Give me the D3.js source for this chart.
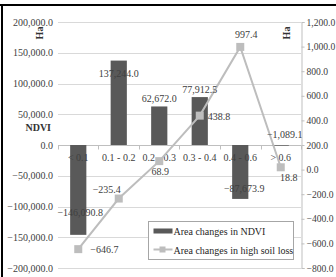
<!DOCTYPE html>
<html><head><meta charset="utf-8">
<script src="https://cdn.jsdelivr.net/npm/d3@7"></script>
<style>body{margin:0;background:#fff}svg{display:block}text{font-family:"Liberation Serif","Times New Roman",serif;}</style>
</head><body><svg id="c" width="336" height="277"></svg>
<script>
const categories = ["< 0.1", "0.1 - 0.2", "0.2 - 0.3", "0.3 - 0.4", "0.4 - 0.6", "> 0.6"];
const ndviArea = [-146090.8, 137244.0, 62672.0, 77912.5, -87673.9, -1089.1];
const soilLossArea = [-646.7, -235.4, 68.9, 438.8, 997.4, 18.8];
const leftTicks = [200000, 150000, 100000, 50000, 0, -50000, -100000, -150000, -200000];
const rightTicks = [1200, 1000, 800, 600, 400, 200, 0, -200, -400, -600, -800];
const seriesNames = ["Area changes in NDVI", "Area changes in high soil loss"];

const svg = d3.select("#c");
const W = 336, H = 277;
const plot = {l: 58, r: 301, t: 22, b: 268};
const fmt = d3.format(",.1f");

const x = d3.scaleBand().domain(categories).range([plot.l, plot.r]).paddingInner(0.6).paddingOuter(0.3);
const yL = d3.scaleLinear().domain([-200000, 200000]).range([plot.b, plot.t]);
const yR = d3.scaleLinear().domain([-800, 1200]).range([plot.b, plot.t]);
const cx = c => x(c) + x.bandwidth() / 2;

// frame
svg.append("line").attr("x1", 0).attr("x2", W).attr("y1", 5).attr("y2", 5).attr("stroke", "#000").attr("stroke-width", 2);
svg.append("line").attr("x1", 2).attr("x2", 2).attr("y1", 4).attr("y2", H).attr("stroke", "#000").attr("stroke-width", 2);

// gridlines
svg.append("g").selectAll("line").data(leftTicks).join("line")
  .attr("x1", plot.l).attr("x2", plot.r)
  .attr("y1", d => Math.round(yL(d)) + 0.5).attr("y2", d => Math.round(yL(d)) + 0.5)
  .attr("stroke", "#d9d9d9").attr("stroke-width", 1);

// left axis labels
const axL = d3.axisLeft(yL).tickValues(leftTicks).tickFormat(fmt).tickSize(0).tickPadding(5);
const gL = svg.append("g").attr("transform", `translate(${plot.l},0)`).call(axL);
gL.select(".domain").remove();
gL.selectAll("text").attr("font-size", 10).attr("fill", "#404040").attr("font-family", "Liberation Serif");

// right axis
const axR = d3.axisRight(yR).tickValues(rightTicks).tickFormat(fmt).tickSize(3).tickPadding(2);
const gR = svg.append("g").attr("transform", `translate(${plot.r + 0.5},0)`).call(axR);
gR.select(".domain").attr("stroke", "#bfbfbf");
gR.selectAll(".tick line").attr("stroke", "#bfbfbf");
gR.selectAll("text").attr("font-size", 9.6).attr("fill", "#404040").attr("font-family", "Liberation Serif");

// category axis at zero
const y0 = Math.round(yL(0)) + 0.5;
svg.append("line").attr("x1", plot.l).attr("x2", plot.r).attr("y1", y0).attr("y2", y0).attr("stroke", "#bfbfbf");
const bounds = categories.map(c => x(c) - x.step() * x.paddingInner() / 2).concat([plot.r]);
svg.append("g").selectAll("line").data(bounds).join("line")
  .attr("x1", d => Math.round(d) + 0.5).attr("x2", d => Math.round(d) + 0.5)
  .attr("y1", y0).attr("y2", y0 + 4).attr("stroke", "#bfbfbf");

// bars
svg.append("g").selectAll("rect").data(ndviArea).join("rect")
  .attr("x", (d, i) => x(categories[i]))
  .attr("width", x.bandwidth())
  .attr("y", d => yL(Math.max(0, d)))
  .attr("height", d => Math.abs(yL(d) - yL(0)))
  .attr("fill", "#595959");

// category labels
svg.append("g").selectAll("text").data(categories).join("text")
  .attr("x", d => cx(d)).attr("y", y0 + 15)
  .attr("text-anchor", "middle").attr("font-size", 10).attr("fill", "#404040")
  .text(d => d);

// line
const linePts = soilLossArea.map((v, i) => [cx(categories[i]), yR(v)]);
svg.append("path").attr("d", d3.line()(linePts)).attr("fill", "none").attr("stroke", "#bdbdbd").attr("stroke-width", 2);
svg.append("g").selectAll("rect").data(linePts).join("rect")
  .attr("x", d => d[0] - 4).attr("y", d => d[1] - 4).attr("width", 8).attr("height", 8)
  .attr("fill", "#bdbdbd");

// bar labels (offsets relative to bar end)
const barLblOff = [[2, -22], [0, 16], [0, -4], [0, -4], [4, -10], [4, -11]];
svg.append("g").selectAll("text").data(ndviArea).join("text")
  .attr("x", (d, i) => cx(categories[i]) + barLblOff[i][0])
  .attr("y", (d, i) => (d < 0 ? yL(d) + barLblOff[i][1] + 3 : yL(d) + barLblOff[i][1]))
  .attr("text-anchor", "middle").attr("font-size", 10).attr("fill", "#404040")
  .text(d => fmt(d));

// line labels
const lineLblOff = [[12, 4, "start"], [-12, -6, "middle"], [1, 14, "middle"], [8, 4, "start"], [6, -9, "middle"], [8, 14, "middle"]];
svg.append("g").selectAll("text").data(soilLossArea).join("text")
  .attr("x", (d, i) => linePts[i][0] + lineLblOff[i][0])
  .attr("y", (d, i) => linePts[i][1] + lineLblOff[i][1])
  .attr("text-anchor", (d, i) => lineLblOff[i][2]).attr("font-size", 10).attr("fill", "#404040")
  .text(d => fmt(d));

// axis titles
svg.append("text").attr("transform", "translate(43,33) rotate(-90)").attr("text-anchor", "middle")
  .attr("font-size", 10).attr("font-weight", "bold").attr("fill", "#333").text("Ha");
svg.append("text").attr("transform", "translate(290,33) rotate(-90)").attr("text-anchor", "middle")
  .attr("font-size", 10).attr("font-weight", "bold").attr("fill", "#333").text("Ha");
svg.append("text").attr("x", 51).attr("y", 131).attr("text-anchor", "end")
  .attr("font-size", 10).attr("font-weight", "bold").attr("fill", "#333").text("NDVI");

// legend
const lg = svg.append("g").attr("transform", "translate(148.5,221.5)");
lg.append("rect").attr("width", 145).attr("height", 38).attr("fill", "#fff").attr("stroke", "#a6a6a6");
lg.append("rect").attr("x", 5).attr("y", 7).attr("width", 19).attr("height", 5).attr("fill", "#595959");
lg.append("line").attr("x1", 5).attr("x2", 24).attr("y1", 28).attr("y2", 28).attr("stroke", "#bdbdbd").attr("stroke-width", 2);
lg.append("rect").attr("x", 11).attr("y", 25).attr("width", 6).attr("height", 6).attr("fill", "#bdbdbd");
lg.selectAll("text.l").data(seriesNames).join("text").attr("class", "l")
  .attr("x", 25).attr("y", (d, i) => 13 + i * 19)
  .attr("font-size", 10).attr("fill", "#262626").text(d => d);
</script></body></html>
